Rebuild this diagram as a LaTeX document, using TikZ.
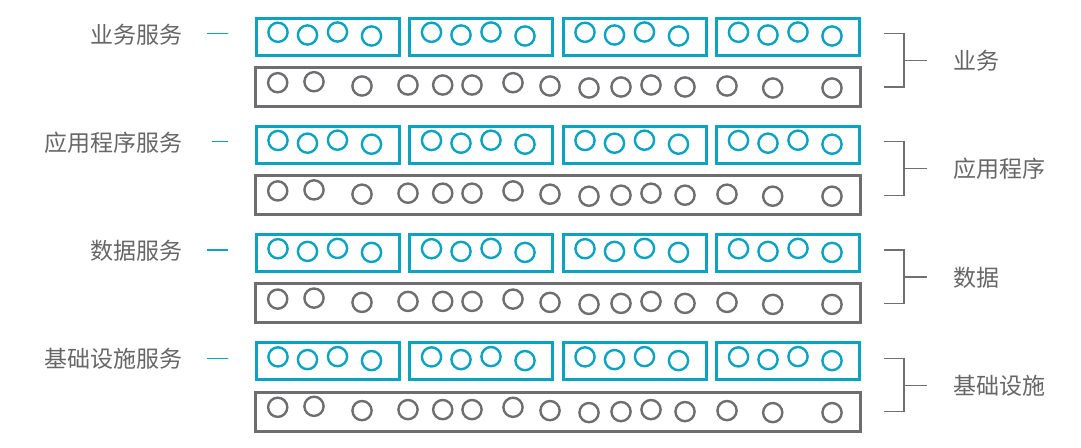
\documentclass[tikz,border=0pt]{standalone}
\usepackage{fontspec}
\newfontfamily\cjk{Noto Sans CJK SC}
\definecolor{cblue}{HTML}{0AA3C2}
\definecolor{cgray}{HTML}{6E6E70}
\definecolor{ctext}{HTML}{666666}
\definecolor{cline}{HTML}{707070}
\begin{document}
\begin{tikzpicture}[x=1pt,y=-1pt,
  bluebox/.style={draw=cblue, line width=3pt, inner sep=0pt, minimum width=143pt, minimum height=37pt, anchor=north west},
  graybox/.style={draw=cgray, line width=3pt, inner sep=0pt, minimum width=605pt, minimum height=39pt, anchor=north west},
  bluedot/.style={circle, draw=cblue, line width=2.4pt, inner sep=0pt, minimum size=19.2pt},
  graydot/.style={circle, draw=cgray, line width=2.4pt, inner sep=0pt, minimum size=19.2pt},
  lefttext/.style={font=\cjk\fontsize{23}{26}\selectfont, text=ctext, inner sep=0pt, anchor=east},
  righttext/.style={font=\cjk\fontsize{23}{26}\selectfont, text=ctext, inner sep=0pt, anchor=west},
  dashline/.style={draw=cblue, line width=1.2pt},
  brack/.style={draw=cline, line width=1.2pt}]
\useasboundingbox (0,0) rectangle (1081,447);
\foreach \r/\lab/\rlab/\dx in {0/业务服务/业务/206.7, 1/应用程序服务/应用程序/212, 2/数据服务/数据/206.7, 3/基础设施服务/基础设施/206.7} {
  \pgfmathsetmacro\T{15+108.2*\r}
  % blue boxes
  \foreach \bx [count=\i] in {254.5,408,561.5,715} {
    \node[bluebox] (b\r-\i) at (\bx,\T+1.5) {};
    \foreach \ox/\oy [count=\j] in {23.5/17.3, 53/20, 83/17, 117/21} {
      \node[bluedot] (bd\r-\i-\j) at (\bx+\ox,\T+\oy) {};
    }
  }
  % gray box
  \node[graybox] (g\r) at (253.5,\T+51) {};
  \foreach \gx/\gy [count=\k] in {277.7/67.7, 314/66.7, 362/71, 408/70, 442.7/70, 472/70, 513/67.7, 550/71, 589/73, 621/72, 651/70, 685/72, 727/71, 772.7/73, 832/73} {
    \node[graydot] (gd\r-\k) at (\gx,\T+\gy) {};
  }
  % left label and dash
  \node[lefttext] (l\r) at (182.5,\T+19.5) {\lab};
  \coordinate (da\r) at (\dx,\T+18.5);
  \coordinate (db\r) at (227.7,\T+18.5);
  \draw[dashline] (da\r) -- (db\r);
  % bracket
  \coordinate (bt\r) at (884,\T+18.5);
  \coordinate (bb\r) at (884,\T+72);
  \coordinate (bm\r) at (904,\T+45.5);
  \coordinate (be\r) at (927,\T+45.5);
  \draw[brack] (bt\r) -| (bm\r) |- (bb\r);
  \draw[brack] (bm\r) -- (be\r);
  \node[righttext] (r\r) at (953,\T+46) {\rlab};
}
\end{tikzpicture}
\end{document}
